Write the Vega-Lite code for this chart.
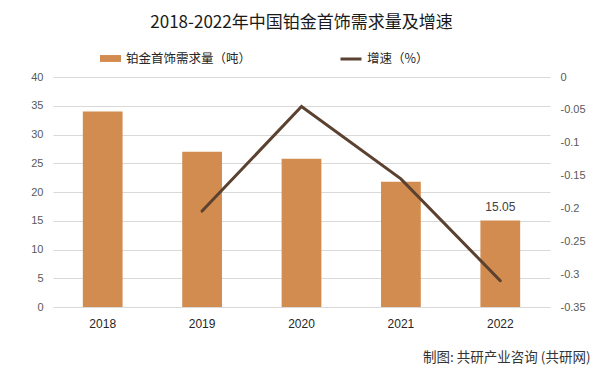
{
  "$schema": "https://vega.github.io/schema/vega-lite/v6.json",
  "width": 497,
  "height": 230,
  "autosize": "none",
  "padding": {"left": 53, "top": 77, "right": 52, "bottom": 69},
  "background": "white",
  "title": {
    "text": "2018-2022年中国铂金首饰需求量及增速",
    "font": "Noto Sans CJK SC",
    "fontSize": 17,
    "fontWeight": "normal",
    "color": "#1a1a1a",
    "anchor": "middle",
    "offset": 15
  },
  "config": {
    "view": {"stroke": null},
    "font": "Noto Sans CJK SC",
    "axis": {"labelFont": "Liberation Sans", "titleFont": "Noto Sans CJK SC"}
  },
  "data": {
    "values": [
      {"year": "2018", "demand": 34.0, "growth": null, "label": null},
      {"year": "2019", "demand": 27.0, "growth": -0.204, "label": null},
      {"year": "2020", "demand": 25.8, "growth": -0.045, "label": null},
      {"year": "2021", "demand": 21.8, "growth": -0.155, "label": null},
      {"year": "2022", "demand": 15.05, "growth": -0.31, "label": "15.05"}
    ]
  },
  "encoding": {
    "x": {
      "field": "year",
      "type": "ordinal",
      "scale": {"paddingInner": 0.6, "paddingOuter": 0.3},
      "axis": {
        "title": "制图: 共研产业咨询 (共研网)",
        "titleFontSize": 13.5,
        "titleFontWeight": "normal",
        "titleColor": "#333333",
        "titleAlign": "right",
        "titleAnchor": null,
        "titleX": 537,
        "titleY": 50,
        "titleBaseline": "middle",
        "labelAngle": 0,
        "labelFontSize": 12,
        "labelColor": "#262626",
        "labelPadding": 11,
        "ticks": false,
        "domainColor": "#d9d9d9",
        "grid": false
      }
    }
  },
  "layer": [
    {
      "encoding": {
        "y": {
          "field": "demand",
          "type": "quantitative",
          "scale": {"domain": [0, 40], "nice": false},
          "axis": {
            "title": null,
            "values": [0, 5, 10, 15, 20, 25, 30, 35, 40],
            "labelFontSize": 11,
            "labelColor": "#595959",
            "labelPadding": 10,
            "labelOverlap": false,
            "ticks": false,
            "domain": false,
            "grid": true,
            "gridColor": "#d9d9d9"
          }
        }
      },
      "layer": [
        {
          "mark": {"type": "bar"},
          "encoding": {
            "color": {
              "datum": "铂金首饰需求量（吨）",
              "type": "nominal",
              "scale": {"range": ["#D38C4F"]},
              "legend": {
                "title": null,
                "orient": "none",
                "legendX": 46,
                "legendY": -30,
                "symbolType": "M-1,-0.33H1V0.33H-1Z",
                "symbolSize": 441,
                "labelFontSize": 12.5,
                "labelColor": "#262626",
                "labelFont": "Noto Sans CJK SC"
              }
            }
          }
        },
        {
          "transform": [{"filter": "datum.label != null"}],
          "mark": {"type": "text", "dy": -13, "fontSize": 12, "color": "#404040", "font": "Liberation Sans"},
          "encoding": {
            "text": {"field": "label"}
          }
        }
      ]
    },
    {
      "transform": [{"filter": "datum.growth != null"}],
      "mark": {"type": "line", "strokeWidth": 3, "strokeCap": "round"},
      "encoding": {
        "y": {
          "field": "growth",
          "type": "quantitative",
          "scale": {"domain": [-0.35, 0], "nice": false, "zero": false},
          "axis": {
            "orient": "right",
            "title": null,
            "values": [0, -0.05, -0.1, -0.15, -0.2, -0.25, -0.3, -0.35],
            "labelExpr": "'' + datum.value",
            "labelFontSize": 11,
            "labelColor": "#595959",
            "labelPadding": 10,
            "labelOverlap": false,
            "ticks": false,
            "domain": false,
            "grid": false
          }
        },
        "stroke": {
          "datum": "增速（%）",
          "type": "nominal",
          "scale": {"range": ["#5B4130"]},
          "legend": {
            "title": null,
            "orient": "none",
            "legendX": 286,
            "legendY": -30,
            "symbolType": "stroke",
            "symbolStrokeWidth": 3,
            "symbolSize": 441,
            "labelFontSize": 12.5,
            "labelColor": "#262626",
            "labelFont": "Noto Sans CJK SC"
          }
        }
      }
    }
  ],
  "resolve": {"scale": {"y": "independent"}}
}
